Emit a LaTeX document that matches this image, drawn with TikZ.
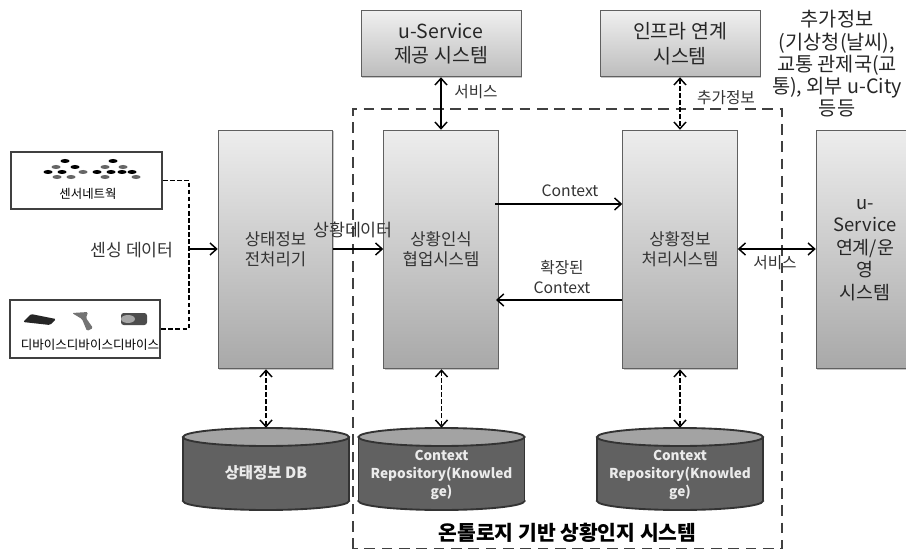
\documentclass[tikz,border=0pt]{standalone}
\usepackage{fontspec}
\setmainfont{Noto Sans CJK KR}
\usetikzlibrary{positioning,arrows.meta,shadows}
\tikzset{
  sysbox/.style={draw=gray!75!black,line width=0.6pt,top color=gray!14,bottom color=gray!68,drop shadow={shadow xshift=0.8pt,shadow yshift=-0.8pt,opacity=0.45},inner sep=0pt},
  topbox/.style={sysbox,top color=gray!12,bottom color=gray!52,align=center,font=\fontsize{14.6}{18.4}\selectfont,text=black!85,minimum width=120pt,minimum height=50pt},
  srcbox/.style={draw=black!75,line width=1.5pt,fill=white,inner sep=0pt},
  syslab/.style={align=center,inner sep=0pt,text=black!80,font=\fontsize{12.5}{15}\selectfont},
  dbnode/.style={minimum width=124.5pt,minimum height=61.5pt,inner sep=0pt},
  dbedge/.style={draw=black!80,line width=1.4pt},
  dblab/.style={text=white!92!black,align=center,inner sep=0pt,font=\bfseries\fontsize{10.2}{13.2}\selectfont},
  flow/.style={-{Straight Barb[length=5pt,width=9pt]},line width=1.1pt},
  both/.style={{Straight Barb[length=5pt,width=9pt]}-{Straight Barb[length=5pt,width=9pt]},line width=1.1pt},
  bothdash/.style={both,dash pattern=on 3.5pt off 1.8pt},
  tag/.style={inner sep=0pt,font=\fontsize{11.8}{15}\selectfont,text=black!80},
  bdot/.style={fill=black,draw=none},
  gdot/.style={fill=black!60,draw=none},
}
\begin{document}
\begin{tikzpicture}[x=0.75pt,y=0.75pt,yscale=-1,xscale=1]
        \useasboundingbox (0,0) rectangle (906,549);
        \clip (0,0) rectangle (906,549);
        %outer dashed frame
        \draw[line width=1.9pt,black!75,dash pattern=on 8pt off 5pt] (353,549) -- (353,109) -- (782,109) -- (782,549) -- cycle;
        %Source boxes
        \node[srcbox,minimum width=113pt,minimum height=42.5pt] (sensor) at (86.5,180.5) {};
        \node[srcbox,minimum width=113pt,minimum height=43pt] (device) at (85,329) {};
        %System boxes
        \node[sysbox,minimum width=86pt,minimum height=179pt] (prep) at (275.5,249.5) {};
        \node[sysbox,minimum width=86pt,minimum height=179pt] (collab) at (441,249.5) {};
        \node[sysbox,minimum width=86pt,minimum height=179pt] (proc) at (680,249.5) {};
        \node[sysbox,minimum width=74pt,minimum height=179pt] (oper) at (865.5,249.5) {};
        \node[syslab] (preplab) at (275.5,249) {상태정보\\전처리기};
        \node[syslab] (collablab) at (441,249) {상황인식\\협업시스템};
        \node[syslab] (proclab) at (680,249) {상황정보\\처리시스템};
        \node[syslab,text=black!85,font=\fontsize{13.8}{16.9}\selectfont] (operlab) at (865,250) {u-\\Service\\연계/운\\영\\시스템};
        %Top boxes
        \node[topbox] (svc) at (441,43.5) {u-Service\\제공 시스템};
        \node[topbox] (infra) at (680,43.5) {인프라 연계\\시스템};
        %Databases
        \node[dbnode] (statedb) at (266,469) {};
        \node[dbnode] (ctxa) at (441.5,469) {};
        \node[dbnode] (ctxb) at (680,469) {};
        \foreach \dbname in {statedb,ctxa,ctxb} {
          \begin{scope}[shift={(\dbname.center)}]
            \filldraw[dbedge,fill=black!62] (0,32) ellipse (83 and 9);
            \fill[black!62] (-83,-32) rectangle (83,32);
            \draw[dbedge] (-83,-32) -- (-83,32) (83,-32) -- (83,32);
            \filldraw[dbedge,fill=black!36] (0,-32) ellipse (83 and 9);
          \end{scope}
        }
        \node[dblab,font=\bfseries\fontsize{11.6}{14}\selectfont] (statelab) at (266,473) {상태정보 DB};
        \node[dblab] (ctxalab) at (441.5,475) {Context\\Repository(Knowled\\ge)};
        \node[dblab] (ctxblab) at (680,475) {Context\\Repository(Knowled\\ge)};
        % Sensor dots
        \foreach \px/\py in {65/161,113/161,75/167,48/172,62/172,97/172,111/172,122/172,132/172}
          \fill[bdot] (\px,\py) ellipse (4.5 and 2);
        \foreach \px/\py in {56/167,105/167,123/167,83/172,57/177,71/177,105/177,136/177}
          \fill[gdot] (\px,\py) ellipse (4.5 and 2);
        % Device icons
        \fill[black!85,rounded corners=1pt] (31,314) -- (56,319) -- (50,325) -- (23,322) -- cycle;
        \fill[black!55,rounded corners=1pt] (72,313) -- (88,312) -- (86,318) -- (93,328) -- (87,331) -- (82,319) -- cycle;
        \fill[black!70,rounded corners=2pt] (121,313) rectangle (147,325);
        \fill[black!35] (128,319) ellipse (7 and 4);
        % Source labels
        \node[inner sep=0pt,font=\fontsize{9.3}{11}\selectfont] (sensorlab) at (88,194) {센서네트웍};
        \node[inner sep=0pt,font=\fontsize{9.4}{11}\selectfont] (devicelab) at (90,345) {디바이스디바이스디바이스};
        \node[tag,font=\fontsize{12.9}{15}\selectfont] (sensing) at (132,250) {센싱 데이터};
        %Merge into preprocessor
        \coordinate (merge) at (189,249);
        \draw[line width=1.1pt,dash pattern=on 3.5pt off 1.8pt] (sensor.east) -| (merge);
        \draw[line width=1.1pt,dash pattern=on 3.5pt off 1.8pt] (device.east) -| (merge);
        \draw[flow] (merge) -- (prep.west |- merge);
        %Horizontal flows
        \draw[flow] (prep.east |- merge) -- (collab.west |- merge);
        \node[tag,font=\fontsize{13}{15}\selectfont] (statedata) at (353,230) {상황데이터};
        \coordinate (ctxstart) at (495,204);
        \coordinate (extend) at (496,300);
        \draw[flow] (ctxstart) -- (proc.west |- ctxstart);
        \draw[flow] (proc.west |- extend) -- (extend);
        \draw[both] (proc.east |- merge) -- (oper.west |- merge);
        \node[tag] (ctxlab) at (570,191) {Context};
        \node[tag,align=center] (extlab) at (562,277) {확장된\\Context};
        \node[tag] (svclabr) at (775,263) {서비스};
        %Vertical links
        \draw[both] (svc.south) -- (collab.north);
        \draw[bothdash] (infra.south) -- (proc.north);
        \node[tag] (svclab) at (476,92) {서비스};
        \node[tag] (addlab) at (726,98) {추가정보};
        \node[align=center,inner sep=0pt,text=black!85,font=\fontsize{14.8}{16.7}\selectfont] (addinfo) at (837,64) {추가정보\\(기상청(날씨),\\교통 관제국(교\\통), 외부 u-City\\등등};
        %Database links
        \draw[bothdash] (prep.south -| statedb.north) -- (statedb.north);
        \draw[bothdash] (collab.south -| ctxa.north) -- (ctxa.north);
        \draw[bothdash] (proc.south -| ctxb.north) -- (ctxb.north);
        \node[inner sep=0pt,font=\bfseries\fontsize{15.3}{18}\selectfont] (title) at (567.5,533) {온톨로지 기반 상황인지 시스템};
\end{tikzpicture}
\end{document}
